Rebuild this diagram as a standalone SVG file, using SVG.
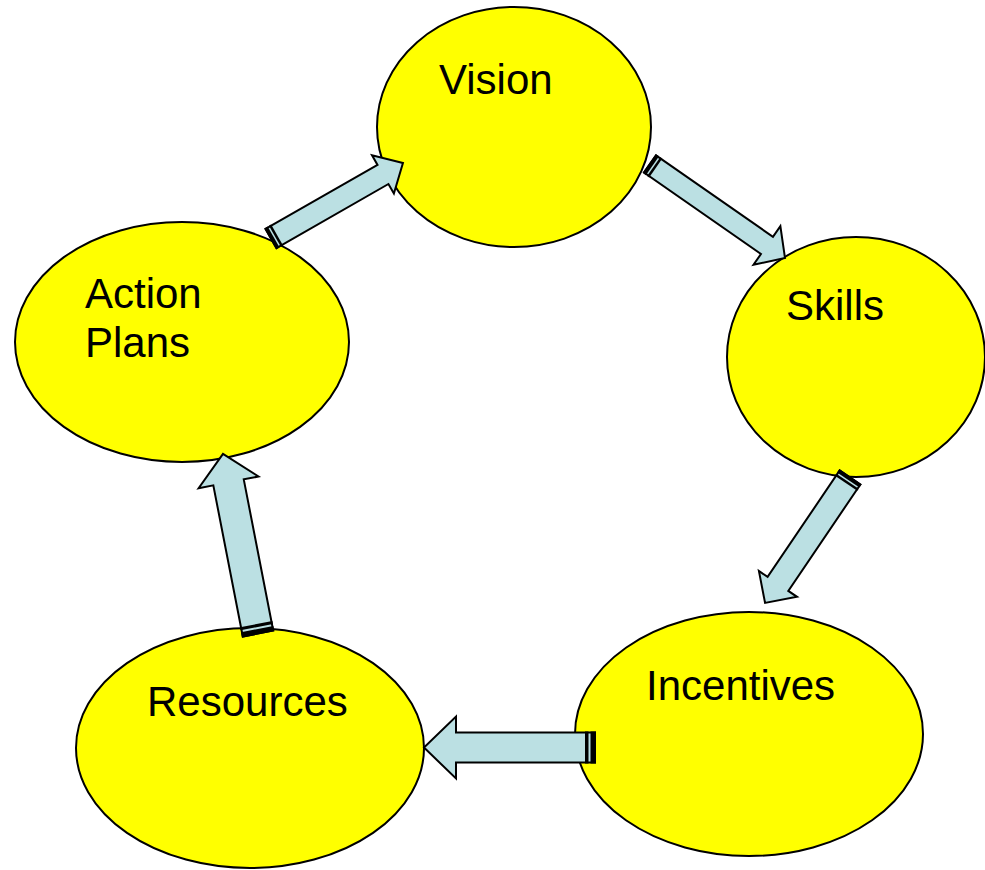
<svg xmlns="http://www.w3.org/2000/svg" width="985" height="870" viewBox="0 0 985 870">
  <style>
    .node { fill: #FFFF00; stroke: #000; stroke-width: 2; }
    .label { font-family: "Liberation Sans", Arial, sans-serif; font-size: 42px; fill: #000; }
    .arrow { fill: #BBE0E3; stroke: #000; stroke-width: 2; stroke-linejoin: miter; }
    .stripe { fill: #000; }
  </style>

  <rect width="985" height="870" fill="#FFFFFF"/>

  <g id="vision">
    <ellipse class="node" cx="514" cy="127" rx="137" ry="120"/>
    <text class="label" x="439" y="94">Vision</text>
  </g>
  <g id="skills">
    <ellipse class="node" cx="856" cy="357" rx="129" ry="120"/>
    <text class="label" x="786" y="320">Skills</text>
  </g>
  <g id="incentives">
    <ellipse class="node" cx="749" cy="734" rx="174" ry="122"/>
    <text class="label" x="646" y="700">Incentives</text>
  </g>
  <g id="resources">
    <ellipse class="node" cx="250" cy="748" rx="174" ry="120"/>
    <text class="label" x="147" y="716">Resources</text>
  </g>
  <g id="action-plans">
    <ellipse class="node" cx="182" cy="342" rx="167" ry="120"/>
    <text class="label" x="85" y="308">Action</text>
    <text class="label" x="85" y="357">Plans</text>
  </g>

  <!-- striped block arrows; local x runs from tail (0) to tip -->
  <g id="connectors">
    <!-- Action Plans to Vision -->
    <g transform="translate(271 238.5) rotate(-29.77)">
      <polygon class="arrow" points="0,-11 129,-11 129,-22 152,0 129,22 129,11 0,11"/>
      <rect class="stripe" x="-1" y="-12" width="4" height="24"/>
      <rect class="stripe" x="4.5" y="-12" width="2.5" height="24"/>
    </g>
    <!-- Vision to Skills -->
    <g transform="translate(650 164) rotate(34.85)">
      <polygon class="arrow" points="0,-10.5 142.5,-10.5 142.5,-23.5 164.5,0 142.5,23.5 142.5,10.5 0,10.5"/>
      <rect class="stripe" x="-1" y="-11.5" width="4" height="23"/>
      <rect class="stripe" x="4.5" y="-11.5" width="2.5" height="23"/>
    </g>
    <!-- Skills to Incentives -->
    <g transform="translate(850 477.5) rotate(124.1)">
      <polygon class="arrow" points="0,-12.5 128.5,-12.5 128.5,-23 151.5,0 128.5,23 128.5,12.5 0,12.5"/>
      <rect class="stripe" x="-1" y="-13.5" width="4" height="27"/>
      <rect class="stripe" x="4.5" y="-13.5" width="2.5" height="27"/>
    </g>
    <!-- Incentives to Resources -->
    <g transform="translate(595 747.5) rotate(180)">
      <polygon class="arrow" points="0,-15 139,-15 139,-31 171,0 139,31 139,15 0,15"/>
      <rect class="stripe" x="-1" y="-16" width="5.5" height="32"/>
      <rect class="stripe" x="6.5" y="-16" width="3.5" height="32"/>
    </g>
    <!-- Resources to Action Plans -->
    <g transform="translate(258 633.5) rotate(-101.03)">
      <polygon class="arrow" points="0,-15.5 154,-15.5 154,-30.5 183,0 154,30.5 154,15.5 0,15.5"/>
      <rect class="stripe" x="-1" y="-16.5" width="5.5" height="33"/>
      <rect class="stripe" x="6.5" y="-16.5" width="3" height="33"/>
    </g>
  </g>
</svg>
